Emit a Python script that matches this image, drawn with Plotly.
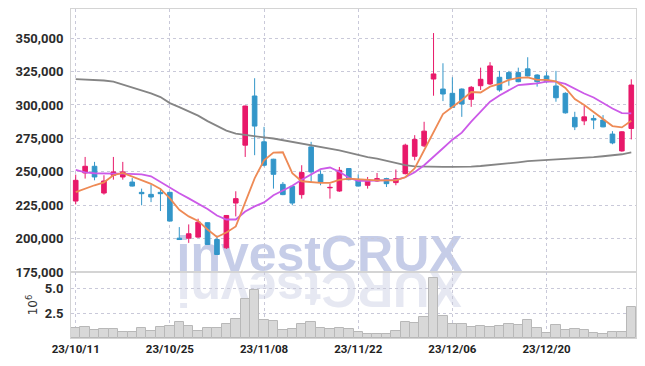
import plotly.graph_objects as go
from plotly.subplots import make_subplots

dates = [
    "23/10/11", "23/10/12", "23/10/13", "23/10/16", "23/10/17", "23/10/18", "23/10/19", "23/10/20",
    "23/10/23", "23/10/24", "23/10/25", "23/10/26", "23/10/27", "23/10/30", "23/10/31",
    "23/11/01", "23/11/02", "23/11/03", "23/11/06", "23/11/07", "23/11/08", "23/11/09", "23/11/10",
    "23/11/13", "23/11/14", "23/11/15", "23/11/16", "23/11/17", "23/11/20", "23/11/21", "23/11/22",
    "23/11/23", "23/11/24", "23/11/27", "23/11/28", "23/11/29", "23/11/30", "23/12/01",
    "23/12/04", "23/12/05", "23/12/06", "23/12/07", "23/12/08", "23/12/11", "23/12/12", "23/12/13",
    "23/12/14", "23/12/15", "23/12/18", "23/12/19", "23/12/20", "23/12/21", "23/12/22",
    "23/12/25", "23/12/26", "23/12/27", "23/12/28", "23/12/29", "24/01/01", "24/01/02",
]

open_ = [228100, 249100, 254100, 234100, 247400, 246100, 242300, 234600, 233100, 234600,
         234600, 200300, 200300, 201100, 211900, 199300, 193100, 226600, 269900, 306700,
         272400, 259400, 240600, 239100, 232900, 268600, 248100, 238000, 235600, 252400,
         244100, 239900, 243100, 244900, 241900, 248600, 261600, 269400, 319400, 311900,
         308700, 311900, 304200, 314400, 315700, 320700, 324200, 324200, 327000, 322400,
         321700, 314200, 308700, 290700, 288100, 289900, 288700, 278200, 265600, 282400]
high = [247900, 261100, 257400, 247400, 261100, 257400, 245300, 237400, 240400, 237800,
        235000, 208600, 210600, 214900, 212000, 202300, 217600, 235400, 299500, 320000,
        283600, 259700, 242300, 239500, 254900, 272400, 251100, 241100, 253600, 252600,
        248100, 246100, 249100, 245500, 251700, 271000, 277400, 287400, 353800, 331200,
        320700, 312400, 314200, 327900, 332000, 325500, 325500, 327900, 335700, 323000,
        324900, 325500, 309500, 294900, 299200, 292400, 292400, 280400, 280400, 319200]
low = [225600, 244900, 243600, 232900, 244100, 244100, 239000, 224900, 227300, 220600,
       213000, 199000, 196800, 200600, 195500, 188000, 192300, 216600, 261100, 262400,
       254000, 237400, 232500, 224900, 229900, 242300, 239900, 229900, 235000, 243600,
       239000, 237400, 242500, 238600, 239900, 248000, 258600, 268500, 306900, 302900,
       298000, 291100, 298600, 311200, 315000, 309900, 314400, 317000, 321300, 313700,
       316500, 302400, 293500, 281200, 284900, 281900, 283300, 270600, 265000, 274200]
close = [243600, 254100, 246100, 243100, 249900, 249900, 239300, 233600, 231100, 233600,
         213100, 199300, 203600, 212300, 195600, 188100, 217300, 229900, 299200, 284200,
         254900, 248100, 232900, 226600, 249400, 249900, 242300, 238300, 251100, 244100,
         239300, 243600, 244900, 241100, 244900, 269900, 274200, 280400, 323200, 308200,
         298200, 300700, 313200, 319200, 329200, 311200, 319400, 317400, 321700, 317400,
         317400, 305400, 294100, 283600, 291100, 288700, 283600, 271600, 279900, 314900]

ma5 = [234800, 237600, 239900, 242100, 247400, 249100, 246200, 243600, 241000, 237200,
       230100, 221500, 216600, 213200, 206800, 201200, 204600, 209100, 227900, 245100,
       258600, 264300, 264600, 248900, 242900, 242100, 241700, 241700, 244000, 244900,
       244400, 243600, 243600, 243600, 243600, 245900, 252600, 266100, 279700, 293200,
       298400, 303700, 309700, 309300, 313700, 315700, 318700, 320200, 320700, 318700,
       318700, 317600, 312700, 304400, 299900, 294700, 289400, 284200, 283200, 288100]
ma20 = [251500, 249600, 248900, 248600, 248600, 248600, 248500, 248100, 246600, 242300,
        237600, 233900, 230100, 226400, 222200, 217300, 214300, 214300, 220300, 224100,
        227100, 232400, 236100, 239500, 244000, 248100, 251900, 253200, 250000, 245500,
        243200, 243200, 243600, 243600, 244000, 245900, 249600, 254900, 260900, 267600,
        274000, 279300, 287500, 295000, 302400, 307100, 311200, 314900, 315500, 316100,
        317400, 317400, 315700, 311900, 308600, 305600, 301400, 297300, 293900, 293700]
ma60 = [319400, 319100, 318700, 318300, 317400, 315300, 313100, 310800, 308600, 305900,
        301400, 298400, 295400, 292000, 287900, 284200, 280800, 278500, 277400, 276700,
        275700, 274900, 273700, 272500, 271000, 269800, 268400, 267300, 266100, 264300,
        262400, 260900, 259800, 258300, 256400, 255000, 254100, 253800, 253600, 253600,
        253600, 253600, 253800, 254300, 254900, 255600, 256400, 257100, 257900, 258300,
        258600, 259000, 259200, 259800, 260500, 260900, 261600, 262400, 263100, 264600]

volume_m = [1.0, 1.1, 0.8, 0.9, 0.9, 0.57, 0.57, 1.0, 0.7, 1.1,
            1.2, 1.6, 1.2, 0.7, 1.0, 1.0, 1.4, 1.9, 3.9, 4.8,
            1.8, 1.7, 0.8, 0.9, 1.4, 1.6, 1.0, 0.9, 1.0, 0.87,
            0.57, 0.37, 0.37, 0.37, 0.7, 1.6, 1.47, 2.1, 6.0, 2.2,
            1.4, 1.4, 1.1, 1.2, 1.1, 1.2, 1.4, 1.3, 1.8, 1.0,
            0.47, 1.3, 0.8, 0.87, 0.8, 0.47, 0.37, 0.57, 0.57, 3.1]
volume = [v * 1e6 for v in volume_m]

price_ticks = [175000, 200000, 225000, 250000, 275000, 300000, 325000, 350000]
vol_ticks = [2.5e6, 5.0e6]
vol_tick_text = ["2.5", "5.0"]
date_ticks = dates[::10]

PINK = "#e8196a"
BLUE = "#3396c9"
GRID = "#c9c9d9"
FRAME = "#d4d4d4"
YFONT = dict(family="Roboto, sans-serif", size=13, color="#2b2b2b", weight="bold")
XFONT = dict(family="Roboto, sans-serif", size=11.5, color="#222222", weight="bold")

fig = make_subplots(rows=2, cols=1, shared_xaxes=True, vertical_spacing=0,
                    row_heights=[263, 66])

fig.add_trace(go.Candlestick(
    x=dates, open=open_, high=high, low=low, close=close,
    increasing=dict(line=dict(color=PINK, width=1), fillcolor=PINK),
    decreasing=dict(line=dict(color=BLUE, width=1), fillcolor=BLUE),
    whiskerwidth=0, hoverinfo="skip", showlegend=False), row=1, col=1)

fig.add_trace(go.Scatter(x=dates, y=ma60, mode="lines", line=dict(color="#858585", width=1.8),
                         hoverinfo="skip", showlegend=False), row=1, col=1)
fig.add_trace(go.Scatter(x=dates, y=ma20, mode="lines", line=dict(color="#cc5ae8", width=1.8),
                         hoverinfo="skip", showlegend=False), row=1, col=1)
fig.add_trace(go.Scatter(x=dates, y=ma5, mode="lines", line=dict(color="#ee8a55", width=1.8),
                         hoverinfo="skip", showlegend=False), row=1, col=1)

fig.add_trace(go.Bar(x=dates, y=volume, marker=dict(color="#d8d8d8", line=dict(color="#b8b8b8", width=1)),
                     width=1, hoverinfo="skip", showlegend=False), row=2, col=1)

fig.update_xaxes(type="category", range=[-0.5, len(dates) - 0.5], tickvals=date_ticks,
                 showgrid=True, gridcolor=GRID, griddash="dot", gridwidth=1,
                 showline=True, linecolor=FRAME, mirror=True, ticks="", automargin=False,
                 rangeslider_visible=False, zeroline=False)
fig.update_xaxes(showticklabels=False, row=1, col=1)
fig.update_xaxes(showticklabels=True, tickfont=XFONT, row=2, col=1)

fig.update_yaxes(range=[175000, 371800], tickvals=price_ticks, tickformat=",d",
                 showgrid=True, gridcolor=GRID, griddash="dot", gridwidth=1,
                 showline=True, linecolor=FRAME, mirror=True, ticks="", zeroline=False,
                 automargin=False, tickfont=YFONT, ticklabelstandoff=4, row=1, col=1)
fig.update_yaxes(range=[0, 6.63e6], tickvals=vol_ticks, ticktext=vol_tick_text,
                 showgrid=True, gridcolor=GRID, griddash="dot", gridwidth=1,
                 showline=True, linecolor=FRAME, mirror=True, ticks="", zeroline=False,
                 automargin=False, tickfont=YFONT, ticklabelstandoff=4,
                 title=dict(text="10<sup>6</sup>", font=dict(family="DejaVu Sans", size=12, color="#333"),
                            standoff=4),
                 row=2, col=1)

# watermark and its reflection
fig.add_shape(type="rect", xref="paper", yref="paper", x0=0.145, x1=0.735, y0=0.197, y1=0.347,
              layer="below", line=dict(width=0), fillcolor="rgba(0,0,0,0)",
              label=dict(text="investCRUX", textposition="middle center",
                         font=dict(family="Liberation Sans, Arial, sans-serif", size=50,
                                   color="rgba(188,196,228,0.85)", weight="bold")))
fig.add_shape(type="rect", xref="paper", yref="paper", x0=0.145, x1=0.735, y0=0.060, y1=0.210,
              layer="below", line=dict(width=0), fillcolor="rgba(0,0,0,0)",
              label=dict(text="XURCtsevni", textposition="middle center", textangle=180,
                         font=dict(family="Liberation Sans, Arial, sans-serif", size=50,
                                   color="rgba(205,210,230,0.5)", weight="bold")))

# the page adds an 8px body margin, so the figure is sized to fill the 645x366 window exactly
fig.update_layout(width=637, height=358, margin=dict(l=63, r=9, t=1, b=28, autoexpand=False),
                  plot_bgcolor="white", paper_bgcolor="white", bargap=0,
                  showlegend=False, hovermode=False)

fig.write_html("out.html")
